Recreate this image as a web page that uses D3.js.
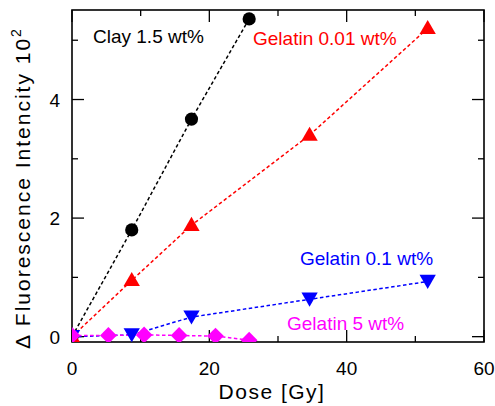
<!DOCTYPE html>
<html>
<head>
  <meta charset="utf-8">
  <script src="https://cdn.jsdelivr.net/npm/d3@7"></script>
  <style>
    body { margin: 0; background: #fff; }
    text { font-family: "Liberation Sans", Arial, sans-serif; }
  </style>
</head>
<body>
<script>
  // dose values [Gy] and fluorescence change (x10^2)
  var clayDose = [0, 8.7, 17.4, 25.8];
  var clayVal = [0, 1.80, 3.67, 5.36];
  var gel001Dose = [0, 8.7, 17.4, 34.6, 51.8];
  var gel001Val = [0, 0.95, 1.88, 3.40, 5.20];
  var gel01Dose = [0, 8.7, 17.4, 34.6, 51.8];
  var gel01Val = [0, 0.03, 0.33, 0.63, 0.93];
  var gel5Dose = [0, 5.3, 10.5, 15.6, 20.9, 25.8];
  var gel5Val = [0.02, 0.02, 0.03, 0.02, 0.01, -0.06];
  var xTicks = [0, 20, 40, 60];
  var yTicks = [0, 2, 4];

  var W = 495, H = 406;
  // note: "top" clashes with window.top, so use plotL/R/T/B
  var plotL = 72, plotR = 484, plotT = 10, plotB = 342;

  var svg = d3.select("body").append("svg")
    .attr("width", W).attr("height", H);

  var x = d3.scaleLinear().domain([0, 60]).range([plotL, plotR]);
  var y = d3.scaleLinear().domain([-0.09, 5.51]).range([plotB, plotT]);

  svg.append("defs").append("clipPath").attr("id", "plot")
    .append("rect").attr("x", plotL).attr("y", plotT)
    .attr("width", plotR - plotL).attr("height", plotB - plotT);

  // ticks point inward on all four sides
  var majX = [0, 20, 40, 60], minX = [10, 30, 50];
  var majY = [0, 2, 4], minY = [1, 3, 5];
  var tk = svg.append("g").attr("stroke", "#000").attr("stroke-width", 1.3);
  majX.concat(minX).forEach(function(v) {
    var len = majX.indexOf(v) >= 0 ? 12 : 6;
    tk.append("line").attr("x1", x(v)).attr("x2", x(v)).attr("y1", plotB).attr("y2", plotB - len);
    tk.append("line").attr("x1", x(v)).attr("x2", x(v)).attr("y1", plotT).attr("y2", plotT + len);
  });
  majY.concat(minY).forEach(function(v) {
    var len = majY.indexOf(v) >= 0 ? 12 : 6;
    tk.append("line").attr("y1", y(v)).attr("y2", y(v)).attr("x1", plotL).attr("x2", plotL + len);
    tk.append("line").attr("y1", y(v)).attr("y2", y(v)).attr("x1", plotR).attr("x2", plotR - len);
  });

  svg.append("rect").attr("x", plotL).attr("y", plotT)
    .attr("width", plotR - plotL).attr("height", plotB - plotT)
    .attr("fill", "none").attr("stroke", "#000").attr("stroke-width", 1.6);

  // tick labels
  svg.selectAll(".xl").data(xTicks).enter().append("text")
    .attr("x", function(d) { return x(d); }).attr("y", 375)
    .attr("text-anchor", "middle").style("font-size", "19px")
    .text(function(d) { return d; });
  svg.selectAll(".yl").data(yTicks).enter().append("text")
    .attr("x", 60).attr("y", function(d) { return y(d) + 7; })
    .attr("text-anchor", "end").style("font-size", "19px")
    .text(function(d) { return d; });

  // axis titles
  svg.append("text").attr("x", 272).attr("y", 399)
    .attr("text-anchor", "middle").style("font-size", "21px")
    .style("letter-spacing", "1.5px").text("Dose [Gy]");
  var yt = svg.append("text")
    .attr("transform", "translate(30,188) rotate(-90)")
    .attr("text-anchor", "middle").style("font-size", "21px")
    .style("letter-spacing", "2px");
  yt.append("tspan").text("\u0394 Fluorescence Intencity 10");
  yt.append("tspan").attr("dy", -9).style("font-size", "14px").text("2");

  var series = [
    { dose: clayDose, val: clayVal, color: "#000", shape: "circle" },
    { dose: gel001Dose, val: gel001Val, color: "#f00", shape: "up" },
    { dose: gel01Dose, val: gel01Val, color: "#00f", shape: "down" },
    { dose: gel5Dose, val: gel5Val, color: "#f0f", shape: "diamond" }
  ];

  var plot = svg.append("g").attr("clip-path", "url(#plot)");
  var line = d3.line().x(function(d) { return x(d[0]); }).y(function(d) { return y(d[1]); });

  series.forEach(function(s) {
    var pts = s.dose.map(function(d, i) { return [d, s.val[i]]; });
    plot.append("path").datum(pts).attr("d", line)
      .attr("fill", "none").attr("stroke", s.color)
      .attr("stroke-width", 1.5).attr("stroke-dasharray", "3.5,2.5");
  });

  series.forEach(function(s) {
    var pts = s.dose.map(function(d, i) { return [d, s.val[i]]; });
    plot.selectAll(null).data(pts).enter().append("path")
      .attr("fill", s.color)
      .attr("transform", function(d) {
        var r = s.shape === "down" ? 180 : (s.shape === "diamond" ? 45 : 0);
        var dy = s.shape === "down" ? -2 : (s.shape === "up" ? 1 : 0);
        return "translate(" + x(d[0]) + "," + (y(d[1]) + dy) + ") rotate(" + r + ")";
      })
      .attr("d", function() {
        if (s.shape === "circle") return d3.symbol().type(d3.symbolCircle).size(Math.PI * 6.6 * 6.6)();
        if (s.shape === "diamond") return d3.symbol().type(d3.symbolSquare).size(140)();
        return d3.symbol().type(d3.symbolTriangle).size(115)();
      });
  });

  // series labels
  var labels = [
    { t: "Clay 1.5 wt%", c: "#000", px: 93, py: 43 },
    { t: "Gelatin 0.01 wt%", c: "#f00", px: 253, py: 45 },
    { t: "Gelatin 0.1 wt%", c: "#00f", px: 300, py: 265 },
    { t: "Gelatin 5 wt%", c: "#f0f", px: 287, py: 330 }
  ];
  labels.forEach(function(l) {
    svg.append("text").attr("x", l.px).attr("y", l.py)
      .attr("fill", l.c).style("font-size", "19px").text(l.t);
  });
</script>
</body>
</html>
